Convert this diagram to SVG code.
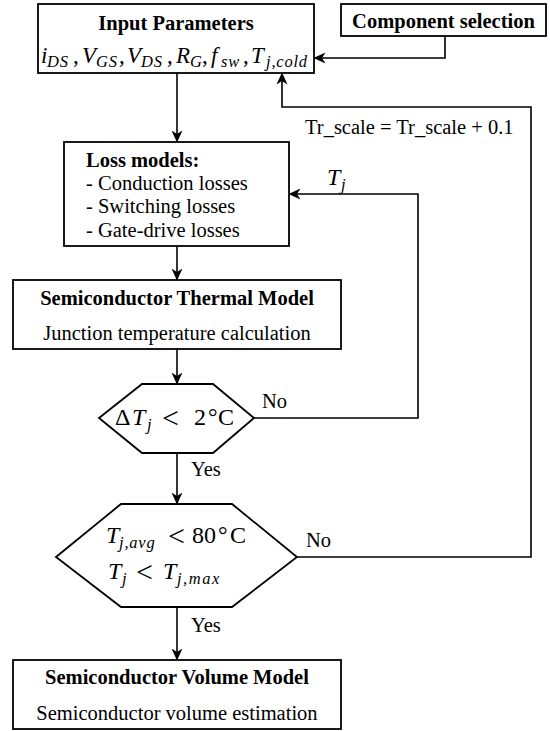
<svg xmlns="http://www.w3.org/2000/svg" width="550" height="731" viewBox="0 0 550 731">
<style>
.box{fill:#fff;stroke:#000;stroke-width:1.8}
.ln{fill:none;stroke:#000;stroke-width:1.6}
.t{font-family:"Liberation Serif","Times New Roman",serif;font-size:20.5px;fill:#000}
.b{font-weight:bold}
.mid{text-anchor:middle}
.m{font-family:"Liberation Serif","Times New Roman",serif;font-size:23px;font-style:italic;fill:#000}
.m2{font-size:24px}
.s{font-size:16.5px;letter-spacing:0.8px}
.u{font-style:normal}
.lt{font-style:normal;font-size:30px}
</style>
<defs>
<marker id="ah" viewBox="0 0 12 12" refX="11.5" refY="6" markerWidth="12" markerHeight="12" markerUnits="userSpaceOnUse" orient="auto">
<path d="M0,0.5 L12,6 L0,11.5 L3.5,6 z" fill="#000"/>
</marker>
</defs>

<g id="connectors">
<path class="ln" d="M177,73 V142" marker-end="url(#ah)"/>
<path class="ln" d="M177,246 V280" marker-end="url(#ah)"/>
<path class="ln" d="M177,349 V384" marker-end="url(#ah)"/>
<path class="ln" d="M177,453 V504" marker-end="url(#ah)"/>
<path class="ln" d="M177,607 V660" marker-end="url(#ah)"/>
<path class="ln" d="M445,36 V58 H314" marker-end="url(#ah)"/>
<path class="ln" d="M254,418 H418 V194 H289" marker-end="url(#ah)"/>
<path class="ln" d="M297,557 H531 V107 H282 V73" marker-end="url(#ah)"/>
<text class="t" x="305" y="134">Tr_scale = Tr_scale + 0.1</text>
<text class="m m2" x="327" y="185">T<tspan class="s" x="341" y="190">j</tspan></text>
<text class="t" x="262" y="408">No</text>
<text class="t" x="191" y="476">Yes</text>
<text class="t" x="306" y="547">No</text>
<text class="t" x="191" y="632">Yes</text>
</g>

<g id="input-parameters">
<rect class="box" x="38" y="4" width="276" height="69"/>
<text class="t b mid" x="176" y="30">Input Parameters</text>
<text class="m" y="63"><tspan x="41">i</tspan><tspan class="s" x="47" y="67">DS</tspan><tspan class="u" x="73" y="63">,</tspan><tspan x="82">V</tspan><tspan class="s" x="96" y="67">GS</tspan><tspan class="u" x="119" y="63">,</tspan><tspan x="127">V</tspan><tspan class="s" x="141" y="67">DS</tspan><tspan class="u" x="167" y="63">,</tspan><tspan x="176">R</tspan><tspan class="s" x="190" y="67">G</tspan><tspan class="u" x="202" y="63">,</tspan><tspan x="211">f</tspan><tspan class="s" x="221" y="67">sw</tspan><tspan class="u" x="243" y="63">,</tspan><tspan x="251">T</tspan><tspan class="s" x="266" y="67">j,cold</tspan></text>
</g>

<g id="component-selection">
<rect class="box" x="341" y="4" width="205" height="32"/>
<text class="t b mid" x="443.5" y="28">Component selection</text>
</g>

<g id="loss-models">
<rect class="box" x="64" y="142" width="225" height="104"/>
<text class="t b" x="86" y="167">Loss models:</text>
<text class="t" x="86" y="190">- Conduction losses</text>
<text class="t" x="86" y="213">- Switching losses</text>
<text class="t" x="86" y="237">- Gate-drive losses</text>
</g>

<g id="thermal-model">
<rect class="box" x="13" y="280" width="328" height="69"/>
<text class="t b mid" x="177" y="305">Semiconductor Thermal Model</text>
<text class="t mid" x="177" y="340">Junction temperature calculation</text>
</g>

<g id="delta-check">
<polygon class="box" points="99,418 142,384 213,384 254,418 213,453 142,453"/>
<text class="m m2" y="425"><tspan class="u" x="115">Δ</tspan><tspan x="132">T</tspan><tspan class="s" x="147" y="430">j</tspan><tspan class="lt" x="162" y="428">&lt;</tspan><tspan class="u" x="194" y="425">2</tspan><tspan class="u" x="208">°</tspan><tspan class="u" x="218">C</tspan></text>
</g>

<g id="temp-check">
<polygon class="box" points="56,557 121,504 232,504 297,557 232,607 121,607"/>
<text class="m m2" y="543"><tspan x="106">T</tspan><tspan class="s" x="119" y="548">j,avg</tspan><tspan class="lt" x="168" y="546">&lt;</tspan><tspan class="u" x="192" y="543">80</tspan><tspan class="u" x="218">°</tspan><tspan class="u" x="230">C</tspan></text>
<text class="m m2" y="579"><tspan x="108">T</tspan><tspan class="s" x="122" y="584">j</tspan><tspan class="lt" x="136" y="582">&lt;</tspan><tspan x="163" y="579">T</tspan><tspan class="s" x="177" y="584" style="letter-spacing:1.5px">j,max</tspan></text>
</g>

<g id="volume-model">
<rect class="box" x="13" y="660" width="328" height="69"/>
<text class="t b mid" x="177" y="684">Semiconductor Volume Model</text>
<text class="t mid" x="177" y="720">Semiconductor volume estimation</text>
</g>
</svg>
